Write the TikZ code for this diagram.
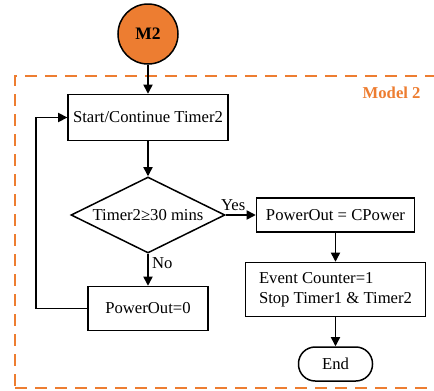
\documentclass[tikz,border=0pt]{standalone}
\usepackage{fontspec}
\setmainfont{Liberation Serif}
\usepackage{xcolor}
\definecolor{modelorange}{HTML}{ED7D31}
\usetikzlibrary{shapes.geometric, arrows.meta, positioning}
\tikzset{
  fbox/.style ={rectangle, draw=black, line width=0.9pt, fill=white, align=center, inner sep=3pt, font=\fontsize{10}{12}\selectfont},
  fdec/.style ={diamond, draw=black, line width=0.9pt, fill=white, aspect=2, inner sep=1pt, font=\fontsize{10}{12}\selectfont},
  fterm/.style={rectangle, rounded corners=10pt, draw=black, line width=0.9pt, fill=white, font=\fontsize{10}{12}\selectfont},
  fconn/.style={circle, draw=black, line width=0.9pt, fill=modelorange, minimum size=36pt, inner sep=0pt, font=\fontsize{10.5}{12}\selectfont\bfseries},
  farr/.style ={-{Triangle[length=5.5pt, width=5.5pt]}, line width=0.9pt},
  flbl/.style ={font=\fontsize{10}{12}\selectfont, inner sep=2pt},
  mframe/.style={rectangle, draw=modelorange, line width=1.7pt, dash pattern=on 7.2pt off 4.8pt},
}
\begin{document}
\begin{tikzpicture}
  \useasboundingbox (0,0) rectangle (260.4pt,234pt);
  \node[mframe, minimum width=255pt, minimum height=187.2pt] (model) at (136.5pt,94.8pt) {};
  \node[anchor=north east, text=modelorange, font=\fontsize{10}{12}\selectfont\bfseries] (mlbl) at ([xshift=-9pt, yshift=-4pt]model.north east) {Model 2};
  \node[fconn] (m2) at (88.8pt,213.6pt) {M2};
  \node[fbox, minimum width=95.4pt, minimum height=27.6pt, below=17.4pt of m2] (start) {Start/Continue Timer2};
  \node[fdec, minimum width=92.4pt, minimum height=45.6pt, below=21pt of start] (dec) {Timer2≥30 mins};
  \node[fbox, minimum width=94.8pt, minimum height=20.4pt, right=18pt of dec] (cpow) {PowerOut = CPower};
  \node[fbox, minimum width=108pt, minimum height=32.4pt, align=left, below=17.4pt of cpow] (event) {Event Counter=1\\Stop Timer1 \& Timer2};
  \node[fterm, minimum width=44.4pt, minimum height=20.4pt, below=17.4pt of event] (end) {End};
  \node[fbox, minimum width=72pt, minimum height=26.4pt, below=19.2pt of dec] (zero) {PowerOut=0};
  \coordinate (loop) at (21.6pt,0 |- zero.west);
  \draw[farr] (m2) -- (start);
  \draw[farr] (start) -- (dec);
  \draw[farr] (dec.east) -- node[flbl, above, pos=0.25]{Yes} (cpow.west);
  \draw[farr] (dec.south) -- node[flbl, right, pos=0.3]{No} (zero.north);
  \draw[farr] (cpow) -- (event);
  \draw[farr] (event) -- (end);
  \draw[farr] (zero.west) -- (loop) |- (start.west);
\end{tikzpicture}
\end{document}
